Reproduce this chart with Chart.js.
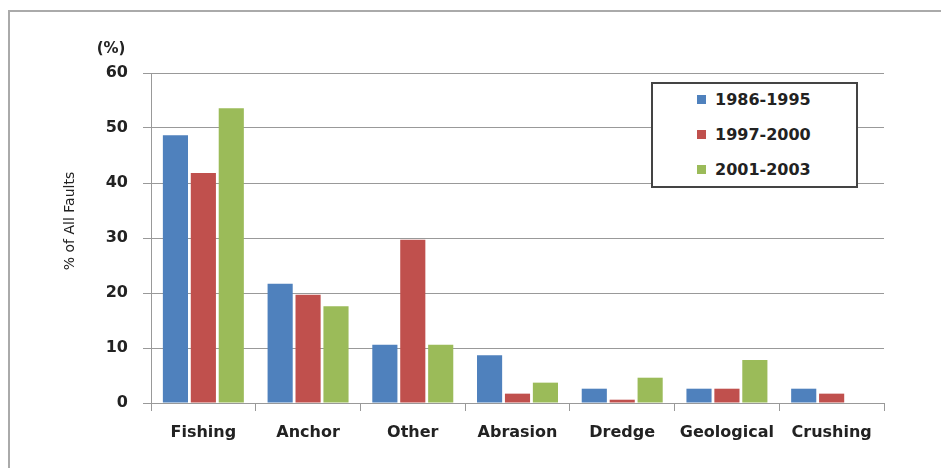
<!DOCTYPE html>
<html>
<head>
<meta charset="utf-8">
<script src="https://cdn.jsdelivr.net/npm/chart.js@4"></script>
<style>
  html, body { margin: 0; padding: 0; background: #fff; overflow: hidden; }
  #wrap { position: relative; width: 941px; height: 468px; overflow: hidden; }
  #chart { position: absolute; left: 0; top: 0; }
  #legend { position: absolute; left: 651px; top: 82px; width: 203px; height: 102px;
            border: 2px solid #444; background: #fff;
            font: bold 16px "DejaVu Sans", sans-serif; color: #222; }
  #legend .item { position: absolute; left: 44px; height: 20px; line-height: 20px; }
  #legend .box { display: inline-block; width: 9px; height: 9px; margin-right: 9px; vertical-align: 1px; }
</style>
</head>
<body>
<div id="wrap">
  <canvas id="chart" width="941" height="468"></canvas>
  <div id="legend"></div>
</div>
<script>
const categories = ['Fishing', 'Anchor', 'Other', 'Abrasion', 'Dredge', 'Geological', 'Crushing'];
const seriesNames = ['1986-1995', '1997-2000', '2001-2003'];
const values1986 = [48.7, 21.7, 10.6, 8.7, 2.6, 2.6, 2.6];
const values1997 = [41.8, 19.7, 29.7, 1.7, 0.6, 2.6, 1.7];
const values2001 = [53.6, 17.6, 10.6, 3.7, 4.6, 7.8, 0];
const yTicks = [0, 10, 20, 30, 40, 50, 60];
const colors = ['#4F81BD', '#C0504D', '#9BBB59'];

document.addEventListener('DOMContentLoaded', () => {
    const ctx = document.getElementById('chart').getContext('2d');

    // Rahmen oben/links hinter dem Diagramm
    const frame = {
        id: 'frame',
        beforeDraw(chart) {
            const c = chart.ctx;
            c.save();
            c.strokeStyle = '#aaa';
            c.lineWidth = 2;
            c.beginPath();
            c.moveTo(9, 468);
            c.lineTo(9, 11);
            c.lineTo(941, 11);
            c.stroke();
            c.restore();
        }
    };

    // "(%)" und Achsentitel selbst zeichnen
    const extraText = {
        id: 'extraText',
        afterDraw(chart) {
            const c = chart.ctx;
            c.save();
            c.fillStyle = '#222';
            c.textAlign = 'center';
            c.textBaseline = 'middle';
            c.font = 'bold 15px "DejaVu Sans", sans-serif';
            c.fillText('(%)', 111, 49);
            c.translate(70, 221);
            c.rotate(-Math.PI / 2);
            c.font = '14px "DejaVu Sans", sans-serif';
            c.fillText('% of All Faults', 0, 0);
            c.restore();
        }
    };

    const data = {
        labels: categories,
        datasets: [values1986, values1997, values2001].map((vals, i) => ({
            label: seriesNames[i],
            data: vals,
            backgroundColor: colors[i],
            borderWidth: 0,
            categoryPercentage: 0.8,
            barPercentage: 0.9
        }))
    };

    const chart = new Chart(ctx, {
        type: 'bar',
        data: data,
        options: {
            responsive: false,
            animation: false,
            layout: { padding: { left: 0, top: 73, right: 57, bottom: 15 } },
            plugins: {
                legend: { display: false },
                tooltip: { enabled: false }
            },
            scales: {
                x: {
                    afterFit(scale) { scale.height = 50; },
                    grid: { display: true, drawOnChartArea: false, offset: true, tickLength: 8, color: '#999' },
                    border: { color: '#999', width: 1 },
                    ticks: {
                        padding: 12,
                        color: '#222',
                        font: { family: '"DejaVu Sans", sans-serif', size: 16, weight: 'bold' },
                        maxRotation: 0, autoSkip: false
                    }
                },
                y: {
                    min: 0,
                    max: 60,
                    afterFit(scale) { scale.width = 151; },
                    afterBuildTicks(scale) { scale.ticks = yTicks.map(v => ({ value: v })); },
                    grid: { color: '#999', tickLength: 8 },
                    border: { color: '#999', width: 1 },
                    ticks: {
                        padding: 15,
                        color: '#222',
                        font: { family: '"DejaVu Sans", sans-serif', size: 16, weight: 'bold' }
                    }
                }
            }
        },
        plugins: [frame, extraText]
    });

    // HTML-Legende aus den Datensätzen
    const legend = document.getElementById('legend');
    chart.data.datasets.forEach((ds, i) => {
        const item = document.createElement('div');
        item.className = 'item';
        item.style.top = (6 + i * 35) + 'px';
        item.innerHTML = `<span class="box" style="background:${ds.backgroundColor}"></span>${ds.label}`;
        legend.appendChild(item);
    });
});
</script>
</body>
</html>
